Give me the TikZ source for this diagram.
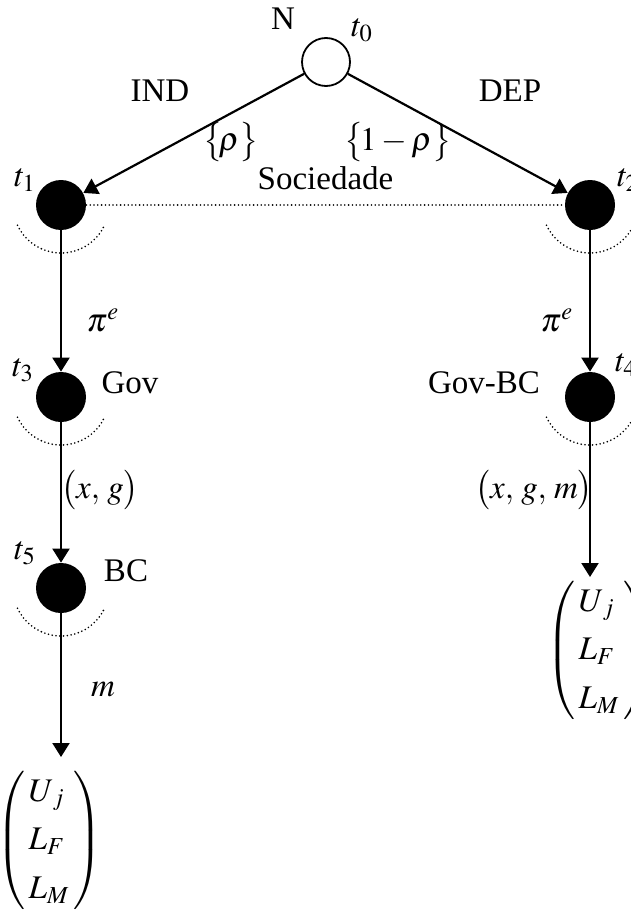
\documentclass[tikz,border=0pt]{standalone}
\usepackage{amsmath}
\usepackage{mathptmx}
\usepackage{fontspec}
\setmainfont{Liberation Serif}
\usetikzlibrary{arrows.meta}
\begin{document}
\begin{tikzpicture}[x=0.5pt,y=-0.5pt,
  every node/.style={font=\fontsize{16.5}{19}\selectfont, inner sep=0pt},
  chance/.style={circle,draw,line width=0.9pt,minimum size=24pt},
  player/.style={circle,fill=black,minimum size=25pt},
  edge/.style={line width=1.1pt,-{Triangle[length=7pt,width=8.5pt]}},
  info/.style={line width=0.9pt,line cap=round,dash pattern=on 0pt off 1.9pt},
  vec/.style={font=\fontsize{16.5}{19.5}\selectfont}]
\useasboundingbox (0,0) rectangle (631,915);
% nodes
\node[chance] (n) at (326,62) {};
\node[player] (t1) at (61,205) {};
\node[player] (t2) at (590,205) {};
\node[player] (t3) at (61,397) {};
\node[player] (t4) at (590,397) {};
\node[player] (t5) at (61,588) {};
\coordinate (endL) at (61,757);
\coordinate (endR) at (590,577);
% node labels
\node (lN) at (283,19) {N};
\node (lt0) at (362,30) {$t_0$};
\node (lt1) at (25,180) {$t_1$};
\node (lt2) at (628,180) {$t_2$};
\node (lt3) at (23,370) {$t_3$};
\node (lt4) at (626,365) {$t_4$};
\node (lt5) at (25,553) {$t_5$};
\node (gov) at (130,383) {Gov};
\node (govbc) at (484,383) {Gov-BC};
\node (bc) at (126,571) {BC};
% edges
\draw[edge] (n) -- (t1);
\draw[edge] (n) -- (t2);
\draw[info] (t1) -- node[above=7pt] (soc) {Sociedade} (t2);
\draw[edge] (t1) -- (t3);
\draw[edge] (t3) -- (t5);
\draw[edge] (t5) -- (endL);
\draw[edge] (t2) -- (t4);
\draw[edge] (t4) -- (endR);
% information arcs
\foreach \t in {t1,t2,t3,t4,t5}{
  \draw[info] ([shift={(205:24pt)}]\t.center) arc[start angle=205,end angle=335,radius=24pt];
}
% edge labels
\node (ind) at (160,91) {IND};
\node (dep) at (510,91) {DEP};
\node (rho) at (231,142) {$\bigl\{\!\rho\bigr\}$};
\node (rho2) at (398,142) {$\bigl\{\!1-\rho\bigr\}$};
\node (pe1) at (103,320) {$\pi^{e}$};
\node (pe2) at (557,320) {$\pi^{e}$};
\node (xg) at (100,490) {$\bigl(x,\, g\bigr)$};
\node (xgm) at (534,490) {$\bigl(x,\, g,\, m\bigr)$};
\node (m) at (103,690) {$m$};
% payoff vectors
\node[vec] (payL) at (49,840) {$\renewcommand{\arraystretch}{1.25}\left(\begin{array}{@{\,}l@{\,}}U_{\,j}\\ L_F\\ L_M\end{array}\right)$};
\node[vec] (payR) at (599,650) {$\renewcommand{\arraystretch}{1.25}\left(\begin{array}{@{\,}l@{\,}}U_{\,j}\\ L_F\\ L_M\end{array}\right)$};
\end{tikzpicture}
\end{document}
